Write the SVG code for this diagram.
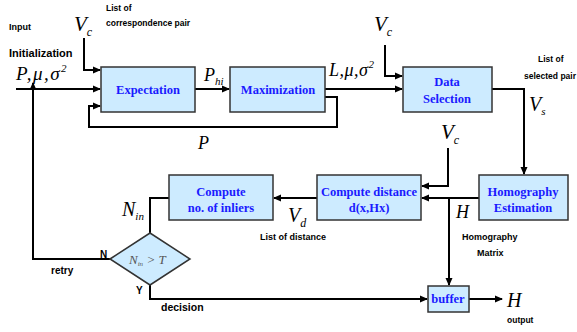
<svg xmlns="http://www.w3.org/2000/svg" width="577" height="332" viewBox="0 0 577 332">
<defs>
<marker id="ah" markerWidth="8" markerHeight="8" refX="7" refY="4" orient="auto" markerUnits="userSpaceOnUse">
<path d="M0,0.5 L8,4 L0,7.5 Z" fill="#000"/>
</marker>
<style>
.box{fill:#cdebff;stroke:#333;stroke-width:1.5}
.bt{font-family:"Liberation Serif",serif;font-weight:bold;font-size:12.5px;fill:#1a1aff;text-anchor:middle}
.c{fill:none;stroke:#000;stroke-width:2}
.s{font-family:"Liberation Sans",Arial,sans-serif;font-weight:bold;fill:#000}
.m{font-family:"Liberation Serif",serif;font-style:italic;fill:#000}
</style>
</defs>
<rect width="577" height="332" fill="#fff"/>
<g id="connectors">
<path class="c" d="M16,89 H100" marker-end="url(#ah)"/>
<path class="c" d="M110,259 H33 V83" marker-end="url(#ah)"/>
<path class="c" d="M84,38 V70 H100" marker-end="url(#ah)"/>
<path class="c" d="M195,89 H229" marker-end="url(#ah)"/>
<path class="c" d="M325,97 H337 V127 H89 V106 H100" marker-end="url(#ah)"/>
<path class="c" d="M325,89 H402" marker-end="url(#ah)"/>
<path class="c" d="M385,45 V76 H402" marker-end="url(#ah)"/>
<path class="c" d="M492,89 H524 V174" marker-end="url(#ah)"/>
<path class="c" d="M479,198 H422" marker-end="url(#ah)"/>
<path class="c" d="M449,198 V285" marker-end="url(#ah)"/>
<path class="c" d="M448,148 V186 H422" marker-end="url(#ah)"/>
<path class="c" d="M317,198 H274" marker-end="url(#ah)"/>
<path class="c" d="M169,198 H150 V233"/>
<path class="c" d="M150,285 V299 H427" marker-end="url(#ah)"/>
<path class="c" d="M469,299 H502" marker-end="url(#ah)"/>
</g>
<g id="expectation"><rect class="box" x="101" y="67" width="94" height="45"/><text class="bt" x="148" y="94">Expectation</text></g>
<g id="maximization"><rect class="box" x="230" y="67" width="95" height="45"/><text class="bt" x="278" y="94">Maximization</text></g>
<g id="data-selection"><rect class="box" x="403" y="67" width="89" height="45"/><text class="bt" x="447" y="86">Data</text><text class="bt" x="447" y="103">Selection</text></g>
<g id="homography-estimation"><rect class="box" x="479" y="175" width="89" height="45"/><text class="bt" x="523" y="196">Homography</text><text class="bt" x="523" y="212">Estimation</text></g>
<g id="compute-distance"><rect class="box" x="317" y="175" width="104" height="45"/><text class="bt" x="369" y="196">Compute distance</text><text class="bt" x="369" y="212">d(x,Hx)</text></g>
<g id="compute-inliers"><rect class="box" x="169" y="175" width="104" height="45"/><text class="bt" x="221" y="196">Compute</text><text class="bt" x="221" y="212">no. of inliers</text></g>
<g id="decision"><path d="M110,259 L150,233 L190,259 L150,285 Z" fill="#cdebff" stroke="#333" stroke-width="1.5"/><text x="129" y="264" font-family="Liberation Serif,serif" font-style="italic" font-size="13" fill="#555">N<tspan font-size="7" dy="2">in</tspan><tspan dy="-2"> &gt; T</tspan></text></g>
<g id="buffer"><rect class="box" x="428" y="286" width="41" height="26"/><text class="bt" x="448" y="303">buffer</text></g>
<g id="labels">
<text class="s" x="9" y="30" font-size="9">Input</text>
<text class="s" x="9" y="57" font-size="11">Initialization</text>
<text class="m" x="16" y="80" font-size="19" letter-spacing="1.5">P,μ,σ<tspan font-size="11" dy="-8">2</tspan></text>
<text class="m" x="74" y="31" font-size="21">V<tspan font-size="12" dy="5">c</tspan></text>
<text class="s" x="106" y="11" font-size="8.5">List of</text>
<text class="s" x="106" y="26" font-size="8.5">correspondence pair</text>
<text class="m" x="204" y="81" font-size="18">P<tspan font-size="11" dy="4">hi</tspan></text>
<text class="m" x="329" y="76" font-size="18" letter-spacing="0.5">L,μ,σ<tspan font-size="11" dy="-8">2</tspan></text>
<text class="m" x="374" y="31" font-size="21">V<tspan font-size="12" dy="5">c</tspan></text>
<text class="s" x="538" y="62" font-size="8.5">List of</text>
<text class="s" x="524" y="79" font-size="8.5">selected pair</text>
<text class="m" x="529" y="111" font-size="20">V<tspan font-size="11" dy="4">s</tspan></text>
<text class="m" x="198" y="149" font-size="18">P</text>
<text class="m" x="441" y="139" font-size="21">V<tspan font-size="12" dy="5">c</tspan></text>
<text class="m" x="456" y="218" font-size="18">H</text>
<text class="s" x="462" y="240" font-size="9">Homography</text>
<text class="s" x="477" y="256" font-size="9">Matrix</text>
<text class="m" x="288" y="222" font-size="20">V<tspan font-size="12" dy="5">d</tspan></text>
<text class="s" x="260" y="240" font-size="9">List of distance</text>
<text class="m" x="122" y="216" font-size="20">N<tspan font-size="11" dy="4">in</tspan></text>
<text class="s" x="100" y="258" font-size="10">N</text>
<text class="s" x="51" y="274" font-size="10">retry</text>
<text class="s" x="136" y="294" font-size="10">Y</text>
<text class="s" x="161" y="311" font-size="10.5">decision</text>
<text class="m" x="507" y="307" font-size="20">H</text>
<text class="s" x="507" y="323" font-size="8.5">output</text>
</g>
</svg>
